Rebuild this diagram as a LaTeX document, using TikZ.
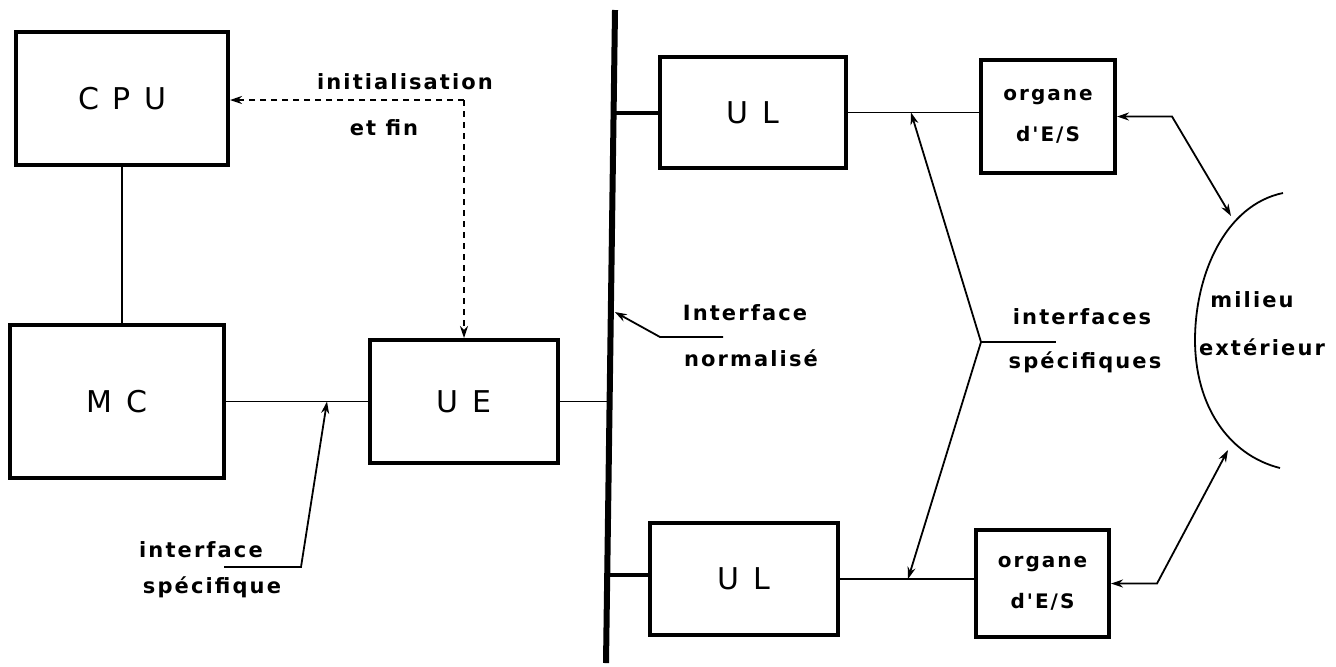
\documentclass[tikz,border=0pt]{standalone}
\usepackage{fontspec}
\setmainfont{DejaVu Sans}
\newfontfamily\bigfont[LetterSpace=45]{DejaVu Sans}
\newfontfamily\labfont[LetterSpace=10]{DejaVu Sans Bold}
\usetikzlibrary{arrows.meta,calc}
\begin{document}
\begin{tikzpicture}[x=0.5pt,y=-0.5pt,
  unitbox/.style={draw,line width=2pt,inner sep=0pt,font=\bigfont\fontsize{15}{16}\selectfont},
  iobox/.style={draw,line width=2pt,inner sep=0pt,align=center,font=\labfont\fontsize{10}{20.5}\selectfont},
  lab/.style={font=\labfont\fontsize{10.5}{12}\selectfont,inner sep=0pt},
  conn/.style={line width=0.9pt},
  thickconn/.style={line width=2pt},
  busline/.style={line width=3pt},
  dashline/.style={line width=1.2pt,dash pattern=on 3pt off 2.5pt},
  tip/.style={-{Stealth[length=6pt,width=4pt]}},
  twotip/.style={{Stealth[length=6pt,width=4pt]}-{Stealth[length=6pt,width=4pt]}},
]
\useasboundingbox (0,0) rectangle (1336,666);

% boxes
\node[unitbox,minimum width=106pt,minimum height=66.5pt] (CPU) at (122,98.5) {CPU};
\node[unitbox,minimum width=107pt,minimum height=76.5pt] (MC) at (117,401.5) {MC};
\node[unitbox,minimum width=94pt,minimum height=61.5pt] (UE) at (464,401.5) {UE};
\node[unitbox,minimum width=93pt,minimum height=55.5pt] (UL1) at (753,112.5) {UL};
\node[unitbox,minimum width=94pt,minimum height=56pt] (UL2) at (744,579) {UL};
\node[iobox,minimum width=67pt,minimum height=56.5pt] (OR1) at (1048,116.5) {organe\\d'E/S};
\node[iobox,minimum width=66.5pt,minimum height=53.5pt] (OR2) at (1042.5,583.5) {organe\\d'E/S};

% bus
\coordinate (bt) at (615,10);
\coordinate (bb) at (606,663);
\draw[busline] (bt) -- (bb);
\coordinate (b1) at ($(bt)!0.158!(bb)$);
\coordinate (bue) at ($(bt)!0.602!(bb)$);
\coordinate (b2) at ($(bt)!0.865!(bb)$);
\coordinate (bn) at ($(bt)!0.4625!(bb)$);

% connections
\draw[conn] (CPU.south) -- (CPU.south |- MC.north);
\draw[conn] (MC.east) -- (UE.west);
\draw[conn] (UE.east) -- (UE.east -| bue);
\draw[thickconn] (b1) -- (b1 -| UL1.west);
\draw[thickconn] (b2) -- (b2 -| UL2.west);
\draw[conn] (UL1.east) -- (UL1.east -| OR1.west);
\draw[conn] (UL2.east) -- (UL2.east -| OR2.west);

% dashed initialisation
\coordinate (dk) at (464,100);
\draw[dashline,tip] (dk) -- (CPU.east |- dk);
\draw[dashline,tip] (dk) -- (UE.north);
\node[lab] (tinit) at (405,82) {initialisation};
\node[lab] (tfin) at (384,128) {et fin};

% interface specifique (left)
\coordinate (isa) at (327,401.5);
\coordinate (isb) at (301,567);
\coordinate (isc) at (224,567);
\draw[conn,tip] (isc) -- (isb) -- (isa);
\node[lab] (tis1) at (201,550) {interface};
\node[lab] (tis2) at (212,587) {spécifique};

% interface normalise
\coordinate (ina) at (660,337);
\coordinate (inb) at (723,337);
\draw[conn,tip] (inb) -- (ina) -- ($(bn)+(4,0)$);
\node[lab] (tin1) at (745,313) {Interface};
\node[lab] (tin2) at (751,358) {normalisé};

% interfaces specifiques (bracket)
\coordinate (bv) at (981,342);
\coordinate (bvt) at (1056,342);
\coordinate (bu) at (911,112.5);
\coordinate (bd) at (908,579);
\draw[conn,tip] (bv) -- (bu);
\draw[conn,tip] (bv) -- (bd);
\draw[conn] (bv) -- (bvt);
\node[lab] (tif1) at (1082,317) {interfaces};
\node[lab] (tif2) at (1085,362) {spécifiques};

% milieu exterieur
\coordinate (ea) at (1283,193);
\coordinate (el) at (1195,340);
\coordinate (eb) at (1280,468);
\draw[conn] (ea) .. controls (1225,205) and (1195,275) .. (el) .. controls (1195,405) and (1228,455) .. (eb);
\node[lab] (tme1) at (1252,300) {milieu};
\node[lab] (tme2) at (1262,347) {extérieur};

\coordinate (r1) at (1172,116.5);
\coordinate (r1t) at (1231,216);
\coordinate (r2) at (1157,583.5);
\coordinate (r2t) at (1228,450);
\draw[conn,twotip] (OR1.east) -- (r1) -- (r1t);
\draw[conn,twotip] (OR2.east) -- (r2) -- (r2t);
\end{tikzpicture}
\end{document}
